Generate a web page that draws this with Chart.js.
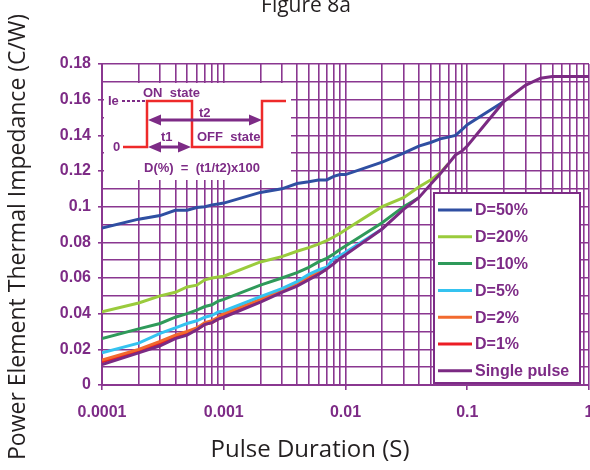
<!DOCTYPE html>
<html>
<head>
<meta charset="utf-8">
<script src="https://cdn.jsdelivr.net/npm/chart.js@4"></script>
<style>
  html, body { margin: 0; padding: 0; background: #fff; }
  #wrap { width: 590px; height: 470px; position: relative; }
</style>
</head>
<body>
<div id="wrap"><canvas id="zthChart" width="590" height="470"></canvas></div>
<script>
// pulse durations (s), shared by every curve
const durations = [
  1e-4, 2e-4, 3e-4, 4e-4, 5e-4, 6e-4, 7e-4, 8e-4, 9e-4,
  1e-3, 2e-3, 3e-3, 4e-3, 5e-3, 6e-3, 7e-3, 8e-3, 9e-3,
  1e-2, 2e-2, 3e-2, 4e-2, 5e-2, 6e-2, 7e-2, 8e-2, 9e-2,
  0.1, 0.2, 0.3, 0.4, 0.5, 0.6, 0.7, 0.8, 0.9,
  1
];

// thermal impedance (C/W)
const d50 = [0.088, 0.093, 0.095, 0.098, 0.098, 0.0995, 0.100, 0.101, 0.1015,
  0.102, 0.108, 0.110, 0.113, 0.114, 0.115, 0.115, 0.117, 0.118,
  0.118, 0.125, 0.130, 0.134, 0.136, 0.138, 0.139, 0.140, 0.143,
  0.146, 0.159];
const d20 = [0.041, 0.046, 0.050, 0.052, 0.055, 0.056, 0.059, 0.060, 0.0605,
  0.061, 0.069, 0.072, 0.075, 0.077, 0.079, 0.081, 0.083, 0.085,
  0.087, 0.100, 0.105, 0.111, 0.115, 0.119, 0.124];
const d10 = [0.026, 0.0315, 0.0345, 0.038, 0.040, 0.042, 0.044, 0.045, 0.047,
  0.048, 0.056, 0.060, 0.063, 0.066, 0.069, 0.071, 0.0735, 0.076,
  0.078, 0.091, 0.100, 0.105];
const d5 = [0.018, 0.0235, 0.029, 0.032, 0.0345, 0.036, 0.038, 0.039, 0.041,
  0.0415, 0.0495, 0.054, 0.058, 0.062, 0.0645, 0.066, 0.071, 0.0725,
  0.0745, 0.0875];
const d2 = [0.014, 0.020, 0.0245, 0.028, 0.030, 0.032, 0.035, 0.036, 0.038,
  0.040, 0.048, 0.053, 0.057, 0.061, 0.063, 0.065];
const d1 = [0.013, 0.019, 0.0235, 0.027, 0.029, 0.031, 0.034, 0.035, 0.037,
  0.039, 0.047, 0.0525, 0.056, 0.060, 0.0625, 0.065];
const single = [0.0115, 0.018, 0.022, 0.026, 0.028, 0.031, 0.034, 0.035, 0.037,
  0.038, 0.0465, 0.052, 0.0555, 0.059, 0.062, 0.065, 0.068, 0.071,
  0.073, 0.0875, 0.0985, 0.105, 0.1125, 0.1185, 0.124, 0.129, 0.131,
  0.134, 0.159, 0.168, 0.172, 0.173, 0.173, 0.173, 0.173, 0.173,
  0.173];

const seriesNames = ['D=50%', 'D=20%', 'D=10%', 'D=5%', 'D=2%', 'D=1%', 'Single pulse'];
const seriesValues = [d50, d20, d10, d5, d2, d1, single];
const seriesColors = ['#2f4fa2', '#9acb3c', '#2f9a5a', '#35c3f0', '#f26a2e', '#ec1c24', '#7b2a83'];

// axis ticks
const xDecades = [0.0001, 0.001, 0.01, 0.1, 1];
const xTickLabels = ['0.0001', '0.001', '0.01', '0.1', '1'];
const yTickLabels = ['0', '0.02', '0.04', '0.06', '0.08', '0.1', '0.12', '0.14', '0.16', '0.18'];

const purple = '#7d2b86';
const gridPurple = '#8a3790';

function xGridValues() {
  const v = [];
  xDecades.forEach((d, i) => {
    if (i === xDecades.length - 1) { v.push(d); return; }
    for (let m = 1; m <= 9; m++) v.push(+(d * m).toPrecision(3));
  });
  return v;
}
function isDecade(v) {
  return xDecades.some(d => Math.abs(v / d - 1) < 1e-6);
}
function yLabelFor(v) {
  const idx = Math.round(v / 0.02);
  return Math.abs(v - idx * 0.02) < 1e-6 ? yTickLabels[idx] : '';
}

const datasets = seriesNames.map((name, i) => ({
  label: name,
  data: durations.map((t, k) => ({ x: t, y: k < seriesValues[i].length ? seriesValues[i][k] : null })),
  borderColor: seriesColors[i],
  backgroundColor: seriesColors[i],
  borderWidth: 3,
  pointRadius: 0,
  tension: 0,
  fill: false,
  spanGaps: false,
  order: name === 'Single pulse' ? 0 : i + 1
}));

function arrow(ctx, x1, x2, y) {
  ctx.beginPath();
  ctx.moveTo(x1 + 10, y);
  ctx.lineTo(x2 - 10, y);
  ctx.stroke();
  ctx.beginPath();
  ctx.moveTo(x1, y); ctx.lineTo(x1 + 13, y - 5.5); ctx.lineTo(x1 + 13, y + 5.5); ctx.closePath();
  ctx.moveTo(x2, y); ctx.lineTo(x2 - 13, y - 5.5); ctx.lineTo(x2 - 13, y + 5.5); ctx.closePath();
  ctx.fill();
}

const decor = {
  id: 'decor',
  beforeDatasetsDraw(chart) {
    // duty-cycle sketch in the upper left
    const { ctx, chartArea: a } = chart;
    const L = a.left, T = a.top;
    ctx.save();
    ctx.fillStyle = '#fff';
    ctx.fillRect(L + 2, T + 19, 187, 97);

    ctx.fillStyle = purple;
    ctx.font = 'bold 13px "Liberation Sans", Arial, sans-serif';
    ctx.textBaseline = 'middle';
    ctx.textAlign = 'left';
    ctx.fillText('Ie', L + 6, T + 37);
    ctx.fillText('0', L + 11, T + 83);
    ctx.fillText('ON  state', L + 41, T + 29);
    ctx.fillText('t2', L + 97, T + 49);
    ctx.fillText('t1', L + 59, T + 73);
    ctx.fillText('OFF  state', L + 95, T + 73);
    ctx.fillText('D(%)  =  (t1/t2)x100', L + 42, T + 104);

    ctx.strokeStyle = purple;
    ctx.lineWidth = 2;
    ctx.setLineDash([3, 2]);
    ctx.beginPath();
    ctx.moveTo(L + 20, T + 37);
    ctx.lineTo(L + 44, T + 37);
    ctx.stroke();
    ctx.setLineDash([]);

    ctx.strokeStyle = '#ee2a2a';
    ctx.lineWidth = 2.5;
    ctx.beginPath();
    ctx.moveTo(L + 21, T + 83);
    ctx.lineTo(L + 45, T + 83);
    ctx.lineTo(L + 45, T + 37);
    ctx.lineTo(L + 90, T + 37);
    ctx.lineTo(L + 90, T + 83);
    ctx.lineTo(L + 160, T + 83);
    ctx.lineTo(L + 160, T + 37);
    ctx.lineTo(L + 184, T + 37);
    ctx.stroke();

    ctx.strokeStyle = purple;
    ctx.fillStyle = purple;
    ctx.lineWidth = 3;
    arrow(ctx, L + 46, L + 160, T + 56);
    arrow(ctx, L + 46, L + 89, T + 83);
    ctx.restore();
  },
  afterDraw(chart) {
    const { ctx, chartArea: a } = chart;
    ctx.save();
    // legend box
    const bx = a.right - 155, by = a.bottom - 192, bw = 146, bh = 190;
    ctx.fillStyle = '#fff';
    ctx.fillRect(bx, by, bw, bh);
    ctx.strokeStyle = purple;
    ctx.lineWidth = 2;
    ctx.strokeRect(bx, by, bw, bh);
    ctx.font = 'bold 16px "Liberation Sans", Arial, sans-serif';
    ctx.textBaseline = 'middle';
    ctx.textAlign = 'left';
    seriesNames.forEach((name, i) => {
      const y = by + 17 + i * 26.8;
      ctx.strokeStyle = seriesColors[i];
      ctx.lineWidth = 3;
      ctx.beginPath();
      ctx.moveTo(bx + 4, y);
      ctx.lineTo(bx + 38, y);
      ctx.stroke();
      ctx.fillStyle = purple;
      ctx.fillText(name, bx + 41, y + 1);
    });

    // titles
    ctx.fillStyle = '#231f20';
    ctx.textAlign = 'center';
    ctx.textBaseline = 'middle';
    ctx.font = '21px "Open Sans", sans-serif';
    ctx.fillText('Figure 8a', 306, 6);
    ctx.font = '24px "Open Sans", sans-serif';
    ctx.fillText('Pulse Duration (S)', 310, 450);
    ctx.font = '23px "Open Sans", sans-serif';
    ctx.translate(18, 237);
    ctx.rotate(-Math.PI / 2);
    ctx.fillText('Power Element Thermal Impedance (C/W)', 0, 0);
    ctx.restore();
  }
};

const tickFont = { family: '"Liberation Sans", Arial, sans-serif', size: 16, weight: 'bold' };

new Chart(document.getElementById('zthChart'), {
  type: 'line',
  data: { datasets: datasets },
  options: {
    responsive: false,
    animation: false,
    events: [],
    layout: { padding: { top: 64, left: 0, right: 1, bottom: 0 } },
    plugins: { legend: { display: false }, title: { display: false }, tooltip: { enabled: false } },
    scales: {
      x: {
        type: 'logarithmic',
        min: 0.0001,
        max: 1,
        afterBuildTicks: axis => { axis.ticks = xGridValues().map(v => ({ value: v })); },
        afterFit: axis => { axis.height = 85; axis.paddingLeft = 0; axis.paddingRight = 0; },
        ticks: {
          autoSkip: false,
          maxRotation: 0,
          padding: 13,
          color: purple,
          font: tickFont,
          callback: v => { const i = xDecades.findIndex(d => Math.abs(v / d - 1) < 1e-6); return i >= 0 ? xTickLabels[i] : ''; }
        },
        grid: {
          color: gridPurple,
          lineWidth: 1.6,
          tickLength: 5,
          tickColor: c => (c.tick && isDecade(c.tick.value)) ? gridPurple : 'rgba(0,0,0,0)'
        },
        border: { color: gridPurple, width: 2 }
      },
      y: {
        min: 0,
        max: 0.18,
        afterBuildTicks: axis => {
          const t = [];
          for (let k = 0; k <= 18; k++) t.push({ value: +(k * 0.01).toFixed(2) });
          axis.ticks = t;
        },
        afterFit: axis => { axis.width = 102; },
        ticks: {
          autoSkip: false,
          padding: 7,
          color: purple,
          font: tickFont,
          callback: v => yLabelFor(v)
        },
        grid: {
          color: gridPurple,
          lineWidth: 1.6,
          tickLength: 4,
          tickColor: c => (c.tick && yLabelFor(c.tick.value) !== '') ? gridPurple : 'rgba(0,0,0,0)'
        },
        border: { color: gridPurple, width: 2 }
      }
    }
  },
  plugins: [decor]
});
</script>
</body>
</html>
